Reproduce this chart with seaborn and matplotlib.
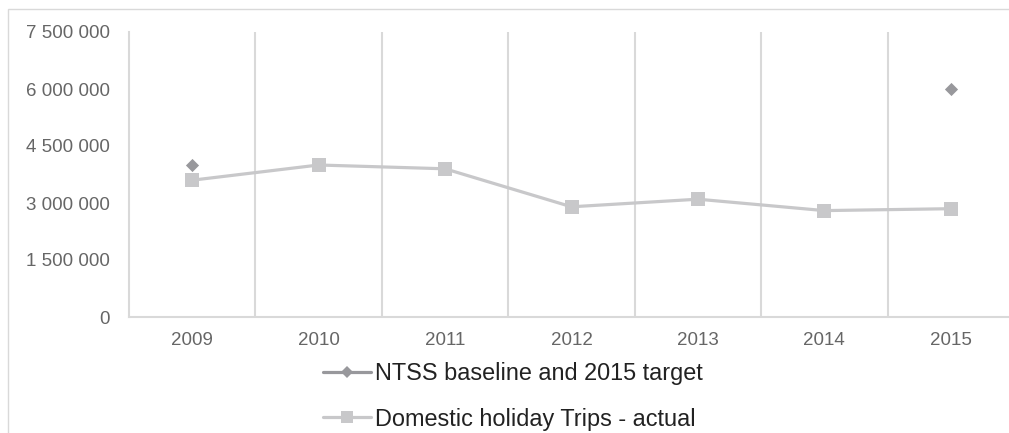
import matplotlib
matplotlib.use("Agg")
import matplotlib.pyplot as plt
import seaborn as sns
import pandas as pd
from matplotlib.lines import Line2D
from matplotlib.patches import Rectangle

# ---- data ----
years = ["2009", "2010", "2011", "2012", "2013", "2014", "2015"]
domestic_trips = [3600000, 4000000, 3900000, 2900000, 3100000, 2800000, 2850000]
ntss_years = ["2009", "2015"]
ntss_values = [4000000, 6000000]
y_ticks = [0, 1500000, 3000000, 4500000, 6000000, 7500000]
y_tick_labels = ["0", "1 500 000", "3 000 000", "4 500 000", "6 000 000", "7 500 000"]
series_labels = ["NTSS baseline and 2015 target", "Domestic holiday Trips - actual"]

LINE_LIGHT = "#c8c8ca"
MARK_DARK = "#98989c"
GRID = "#d9d9d9"
TICK_COL = "#666666"

sns.set_theme(style="white")
plt.rcParams['font.family'] = ['Liberation Sans', 'DejaVu Sans']

W, H = 1009, 433
fig = plt.figure(figsize=(W / 100, H / 100), dpi=100)
fig.patch.set_facecolor("white")

# outer chart frame (cropped at right / bottom)
fig.add_artist(Rectangle((8 / W, -0.2), 1.5, (H - 9) / H + 0.2, transform=fig.transFigure,
                         fill=False, edgecolor=GRID, linewidth=1.0))

ax = fig.add_axes([129 / W, 116 / H, 885 / W, 285 / H])

df_dom = pd.DataFrame({"pos": list(range(len(years))), "value": domestic_trips})
df_ntss = pd.DataFrame({"pos": [years.index(y) for y in ntss_years], "value": ntss_values})

sns.lineplot(data=df_dom, x="pos", y="value", ax=ax, color=LINE_LIGHT, linewidth=2.3,
             marker="s", markersize=9.5, markeredgewidth=0, markerfacecolor=LINE_LIGHT,
             legend=False, zorder=3)
sns.scatterplot(data=df_ntss, x="pos", y="value", ax=ax, color=MARK_DARK, marker="D",
                s=45, linewidth=0, legend=False, zorder=4)

ax.set_xlim(-0.5, len(years) - 0.5)
ax.set_ylim(0, 7500000)
ax.set_yticks(y_ticks)
ax.set_yticklabels(y_tick_labels)
ax.set_xticks(range(len(years)))
ax.set_xticklabels(years)
ax.set_xticks([i + 0.5 for i in range(len(years) - 1)], minor=True)
ax.grid(False)
ax.grid(True, which="minor", axis="x", color=GRID, linewidth=1.5)
ax.set_xlabel("")
ax.set_ylabel("")

for s in ["top", "right"]:
    ax.spines[s].set_visible(False)
for s in ["left", "bottom"]:
    ax.spines[s].set_color(GRID)
    ax.spines[s].set_linewidth(1.5)

ax.tick_params(axis="both", which="both", length=0)
ax.tick_params(axis="y", labelsize=13.5, labelcolor=TICK_COL, pad=14)
ax.tick_params(axis="x", labelsize=13.5, labelcolor=TICK_COL, pad=11)

handles = [
    Line2D([0], [0], color=MARK_DARK, linewidth=2.3, marker="D", markersize=6.0,
           markeredgewidth=0, markerfacecolor=MARK_DARK),
    Line2D([0], [0], color=LINE_LIGHT, linewidth=2.3, marker="s", markersize=8.5,
           markeredgewidth=0, markerfacecolor=LINE_LIGHT),
]
leg = fig.legend(handles, series_labels, loc="upper left",
                 bbox_to_anchor=(323 / W, (H - 362) / H), frameon=False,
                 fontsize=16.9, handlelength=2.05, handletextpad=0.15,
                 labelspacing=0.96, borderpad=0, borderaxespad=0)
for t in leg.get_texts():
    t.set_color("#222222")

fig.savefig("out.png", dpi=100, facecolor="white")
